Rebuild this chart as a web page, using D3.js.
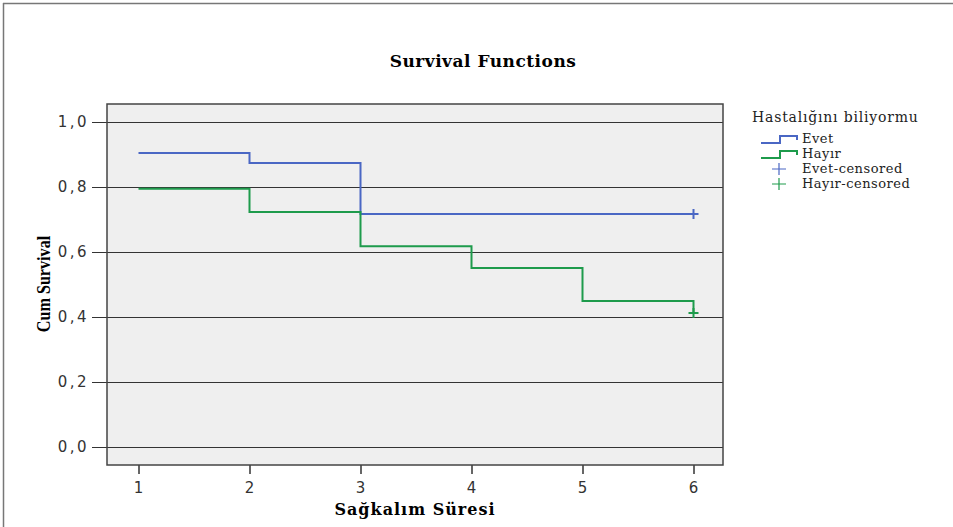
<!DOCTYPE html>
<head>
  <meta charset="utf-8">
  <script src="https://d3js.org/d3.v7.min.js"></script>
  <style>
    body { margin:0; background:#fff; }
    svg { display:block; }
    .tick text { font-family: "DejaVu Sans", sans-serif; font-size: 15px; fill: #333; letter-spacing: 1px; }
    .y-axis .tick text { letter-spacing: 2.5px; }
    .serif { font-family: "DejaVu Serif", serif; }
  </style>
</head>
<body>
<svg width="953" height="527" id="chart"></svg>
<script>
// data
var evetTimes = [1, 2, 3, 6],
    evetSurv  = [0.905, 0.874, 0.717, 0.717],
    hayirTimes = [1, 2, 3, 4, 5, 6],
    hayirSurv  = [0.795, 0.723, 0.618, 0.551, 0.449, 0.412],
    evetCensored  = [[6, 0.717]],
    hayirCensored = [[6, 0.412]],
    xTicks = [1, 2, 3, 4, 5, 6],
    yTicks = [0, 0.2, 0.4, 0.6, 0.8, 1.0];

var svg = d3.select("#chart");

// outer frame (top + left only)
svg.append("line").attr("x1", 3).attr("x2", 953).attr("y1", 3.5).attr("y2", 3.5)
  .attr("stroke", "#777").attr("stroke-width", 1.5);
svg.append("line").attr("x1", 3.5).attr("x2", 3.5).attr("y1", 3).attr("y2", 527)
  .attr("stroke", "#777").attr("stroke-width", 1.5);

var box = {left: 107, top: 104, right: 723, bottom: 465};

var x = d3.scaleLinear().domain([1, 6]).range([138.5, 693.5]),
    y = d3.scaleLinear().domain([0, 1]).range([447, 122]);

svg.append("rect")
  .attr("x", box.left).attr("y", box.top)
  .attr("width", box.right - box.left).attr("height", box.bottom - box.top)
  .attr("fill", "#efefef");

// gridlines with outside ticks
svg.append("g")
  .attr("class", "y-axis")
  .attr("transform", "translate(" + box.right + ",0)")
  .call(d3.axisLeft(y).tickValues(yTicks)
    .tickSize(box.right - 92).tickPadding(3)
    .tickFormat(function(d) { return d3.format(".1f")(d).replace(".", ","); }))
  .call(function(g) {
    g.select(".domain").remove();
    g.selectAll(".tick line").attr("stroke", "#333").attr("stroke-width", 1);
  });

svg.append("g")
  .attr("transform", "translate(0," + box.bottom + ")")
  .call(d3.axisBottom(x).tickValues(xTicks).tickSize(9).tickPadding(8)
    .tickSizeOuter(0).tickFormat(d3.format("d")))
  .call(function(g) {
    g.select(".domain").remove();
    g.selectAll(".tick line").attr("stroke", "#333").attr("stroke-width", 1.5);
  });

svg.append("rect")
  .attr("x", box.left).attr("y", box.top)
  .attr("width", box.right - box.left).attr("height", box.bottom - box.top)
  .attr("fill", "none").attr("stroke", "#444").attr("stroke-width", 1.5);

var line = d3.line().curve(d3.curveStepAfter)
  .x(function(d) { return x(d[0]); })
  .y(function(d) { return y(d[1]); });

var blue = "#4a67c4", green = "#1e9b4c";

svg.append("path").datum(d3.zip(evetTimes, evetSurv))
  .attr("d", line).attr("fill", "none").attr("stroke", blue).attr("stroke-width", 2);
svg.append("path").datum(d3.zip(hayirTimes, hayirSurv))
  .attr("d", line).attr("fill", "none").attr("stroke", green).attr("stroke-width", 2);

function plus(sel, data, color) {
  sel.selectAll(null).data(data).enter().append("path")
    .attr("d", function(d) {
      var cx = x(d[0]), cy = y(d[1]);
      return "M" + (cx - 5) + "," + cy + "H" + (cx + 5) + "M" + cx + "," + (cy - 5) + "V" + (cy + 5);
    })
    .attr("stroke", color).attr("stroke-width", 2).attr("fill", "none");
}
plus(svg, evetCensored, blue);
plus(svg, hayirCensored, green);

// titles
svg.append("text").attr("class", "serif").attr("x", 483).attr("y", 67).attr("text-anchor", "middle")
  .style("font-weight", "bold").style("font-size", "17px").style("letter-spacing", "0.5px")
  .text("Survival Functions");

svg.append("text").attr("class", "serif").attr("x", 415).attr("y", 515).attr("text-anchor", "middle")
  .style("font-weight", "bold").style("font-size", "16px").style("letter-spacing", "1px")
  .text("Sağkalım Süresi");

svg.append("text").attr("transform", "translate(50,284) rotate(-90) scale(0.85,1)")
  .attr("text-anchor", "middle")
  .style("font-family", "Liberation Serif, serif").style("font-size", "19px")
  .style("font-weight", "bold")
  .text("Cum Survival");

// legend
var leg = svg.append("g").style("fill", "#222");
leg.append("text").attr("class", "serif").attr("x", 752).attr("y", 122)
  .style("font-size", "14px").style("letter-spacing", "0.8px").text("Hastalığını biliyormu");

var items = [
  {label: "Evet", color: blue, type: "step"},
  {label: "Hayır", color: green, type: "step"},
  {label: "Evet-censored", color: blue, type: "plus"},
  {label: "Hayır-censored", color: green, type: "plus"}
];
items.forEach(function(it, i) {
  var yy = 139 + i * 15;
  if (it.type === "step") {
    leg.append("path")
      .attr("d", "M761," + (yy + 4) + "H780V" + (yy - 3) + "H797V" + (yy + 1))
      .attr("stroke", it.color).attr("stroke-width", 2).attr("fill", "none");
  } else {
    leg.append("path")
      .attr("d", "M772," + yy + "H786M779," + (yy - 6) + "V" + (yy + 6))
      .attr("stroke", it.color).attr("stroke-width", 1.2).attr("fill", "none");
  }
  leg.append("text").attr("class", "serif").attr("x", 802).attr("y", yy + 4)
    .style("font-size", "13px").style("letter-spacing", "0.5px")
    .text(it.label);
});
</script>
</body>
